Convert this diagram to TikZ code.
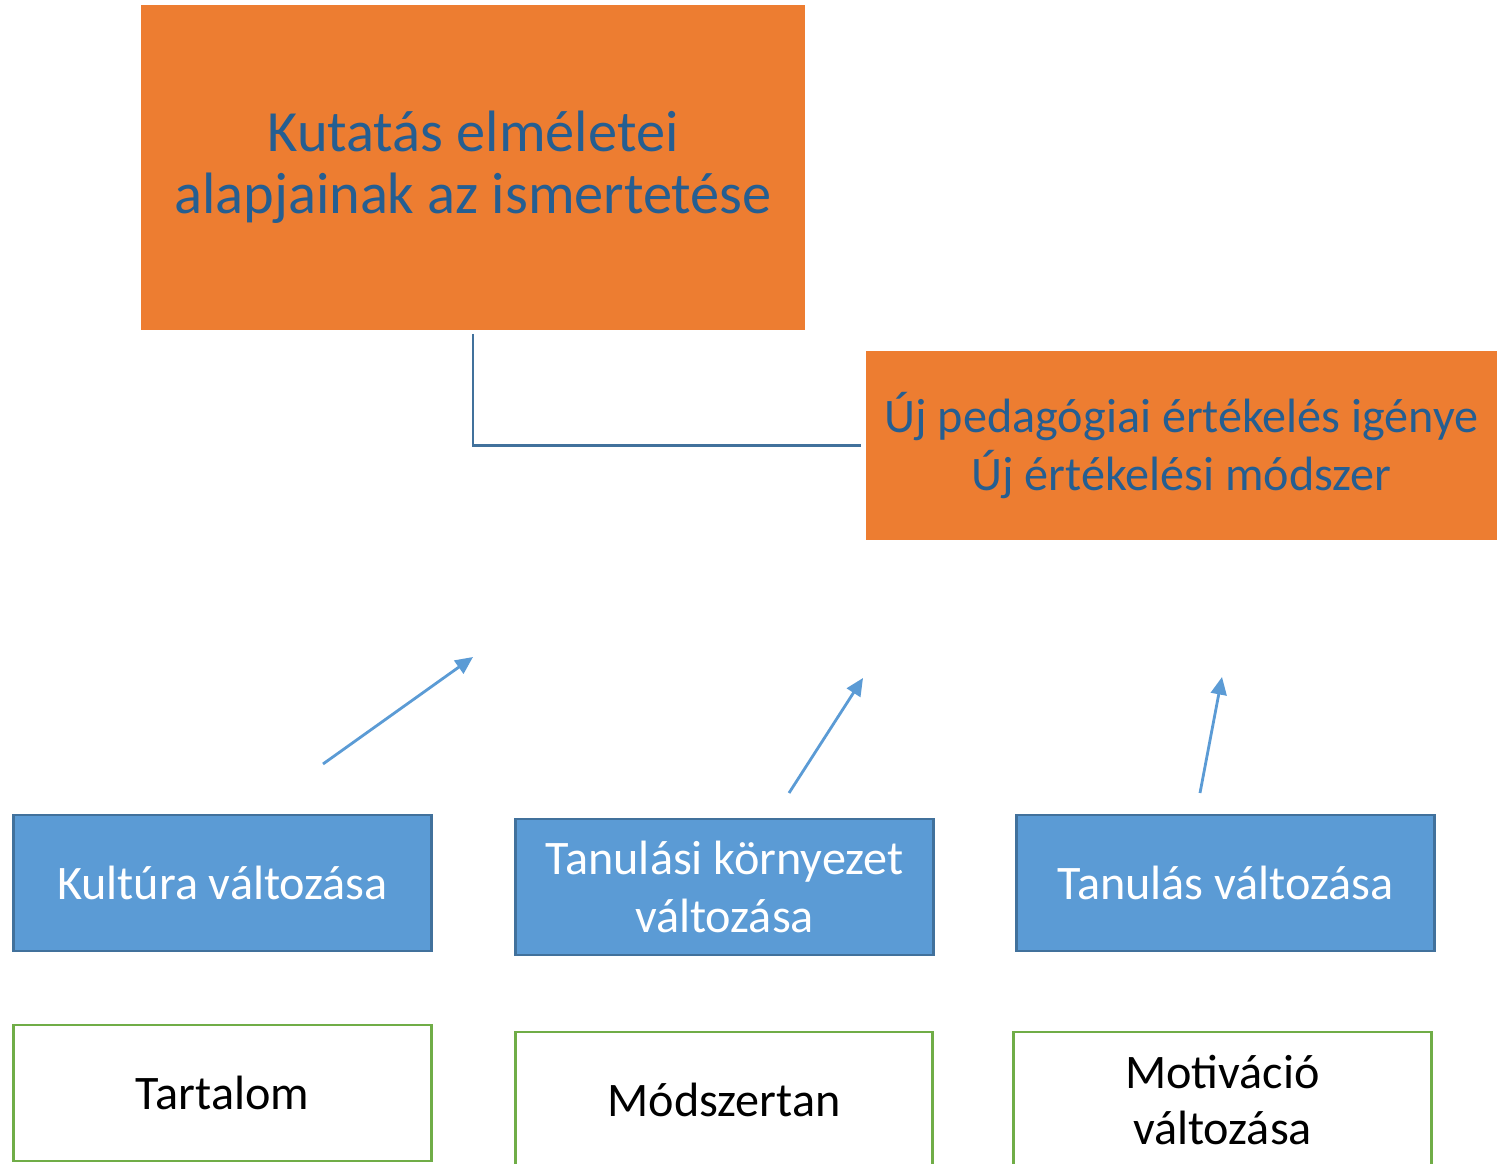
\documentclass[tikz,border=0pt]{standalone}
\usepackage{fontspec}
\setmainfont{Carlito}
\usetikzlibrary{arrows.meta}

\definecolor{boxorange}{RGB}{237,125,49}
\definecolor{titleblue}{RGB}{37,94,145}
\definecolor{boxblue}{RGB}{91,155,213}
\definecolor{edgeblue}{RGB}{65,113,156}
\definecolor{boxgreen}{RGB}{112,173,71}

\begin{document}
\begin{tikzpicture} [x=0.01cm, y=-0.01cm,
	orangebox/.style={fill=boxorange, draw=none, align=center, inner sep=0pt,
		text=titleblue},
	changebox/.style={fill=boxblue, draw=edgeblue, line width=0.8pt, align=center,
		inner sep=0pt, text=white, minimum width=4.17cm, minimum height=1.36cm,
		font=\fontsize{13.7}{16.4}\selectfont},
	factorbox/.style={fill=white, draw=boxgreen, line width=0.8pt, align=center,
		inner sep=0pt, text=black, minimum width=4.17cm, minimum height=1.36cm,
		font=\fontsize{13.7}{16.2}\selectfont},
	arrowline/.style={draw=boxblue, line width=0.8pt, -{Triangle[length=5pt, width=4.5pt]}},
	linkline/.style={draw=edgeblue, line width=0.8pt}]
	
	\clip (0,0) rectangle (1503,1164);
	
	% upper boxes
	\node[orangebox, minimum width=6.64cm, minimum height=3.25cm,
		font=\fontsize{16.6}{17.6}\selectfont] (theory) at (473,167.5)
		{Kutatás elméletei\\alapjainak az ismertetése};
	\node[orangebox, minimum width=6.31cm, minimum height=1.89cm,
		font=\fontsize{13.7}{16.4}\selectfont] (need) at (1181.5,445.5)
		{Új pedagógiai értékelés igénye\\Új értékelési módszer};
	
	\draw[linkline] ([yshift=-0.03cm]theory.south) |- ([xshift=-0.04cm]need.west);
	
	% changes
	\node[changebox] (culture) at (222.5,883) {Kultúra változása};
	\node[changebox] (environment) at (724.5,887) {Tanulási környezet\\változása};
	\node[changebox] (learning) at (1225.5,883) {Tanulás változása};
	
	% factors
	\node[factorbox] (content) at (222.5,1093) {Tartalom};
	\node[factorbox] (method) at (724,1100) {Módszertan};
	\node[factorbox] (motivation) at (1222.5,1100) {Motiváció\\változása};
	
	% arrows
	\coordinate (cultureup) at (323,764);
	\coordinate (culturetip) at (473,657);
	\coordinate (environmentup) at (789,793);
	\coordinate (environmenttip) at (863,678);
	\coordinate (learningup) at (1200,793);
	\coordinate (learningtip) at (1222,677);
	\draw[arrowline] (cultureup) -- (culturetip);
	\draw[arrowline] (environmentup) -- (environmenttip);
	\draw[arrowline] (learningup) -- (learningtip);
	
\end{tikzpicture}
\end{document}
